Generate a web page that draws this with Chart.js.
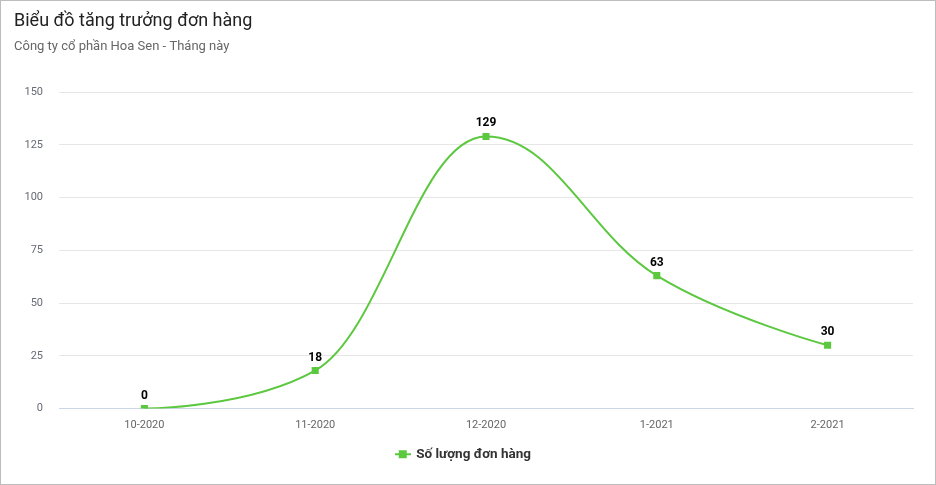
<!DOCTYPE html>
<html>
<head>
<meta charset="utf-8">
<script src="https://cdn.jsdelivr.net/npm/chart.js@4"></script>
<style>
  html, body { margin: 0; padding: 0; background: #fff; }
  #box { width: 934px; height: 483px; border: 1px solid #bdbdbd; border-right-width: 2px; box-sizing: content-box; }
  #box canvas { display: block; }
</style>
</head>
<body>
<div id="box"><canvas id="chart" width="933" height="483"></canvas></div>
<script>
const months = ['10-2020', '11-2020', '12-2020', '1-2021', '2-2021'];
const orders = [0, 18, 129, 63, 30];
const yTicks = [0, 25, 50, 75, 100, 125, 150];

const GREEN = '#5bc83f';
const FONT = "Roboto, 'Liberation Sans', sans-serif";

// Legend symbol: short line with a square on it, like the series itself.
function legendSymbol() {
  const c = document.createElement('canvas');
  c.width = 16; c.height = 10;
  const g = c.getContext('2d');
  g.strokeStyle = GREEN; g.lineWidth = 2;
  g.beginPath(); g.moveTo(0, 5); g.lineTo(16, 5); g.stroke();
  g.fillStyle = GREEN; g.fillRect(4, 1, 8, 8);
  return c;
}

// Spline control points in the style of the original (smoothing 1.5, ends
// without handles, no false extremes). Runs before the line is drawn and
// marks the points as updated so Chart.js keeps them.
const splineControls = {
  id: 'splineControls',
  beforeDatasetsDraw(chart) {
    const meta = chart.getDatasetMeta(0);
    const pts = meta.data;
    const sm = 1.5, den = 2.5;
    pts.forEach((p, i) => {
      const a = pts[i - 1], b = pts[i + 1];
      if (!a || !b) { p.cp1x = p.cp2x = p.x; p.cp1y = p.cp2y = p.y; return; }
      const lx = (sm * p.x + a.x) / den, rx = (sm * p.x + b.x) / den;
      let ly = (sm * p.y + a.y) / den, ry = (sm * p.y + b.y) / den;
      let corr = 0;
      if (rx !== lx) corr = (ry - ly) * (rx - p.x) / (rx - lx) + p.y - ry;
      ly += corr; ry += corr;
      if (ly > a.y && ly > p.y) { ly = Math.max(a.y, p.y); ry = 2 * p.y - ly; }
      else if (ly < a.y && ly < p.y) { ly = Math.min(a.y, p.y); ry = 2 * p.y - ly; }
      if (ry > b.y && ry > p.y) { ry = Math.max(b.y, p.y); ly = 2 * p.y - ry; }
      else if (ry < b.y && ry < p.y) { ry = Math.min(b.y, p.y); ly = 2 * p.y - ry; }
      p.cp1x = lx; p.cp1y = ly; p.cp2x = rx; p.cp2y = ry;
    });
    meta.dataset._pointsUpdated = true;
    meta.dataset._path = undefined;
  }
};

// Value labels above each point, black bold with a thin white outline.
const pointLabels = {
  id: 'pointLabels',
  afterDatasetsDraw(chart) {
    const ctx = chart.ctx;
    const meta = chart.getDatasetMeta(0);
    ctx.save();
    ctx.font = `bold 12px ${FONT}`;
    ctx.textAlign = 'center';
    ctx.textBaseline = 'bottom';
    ctx.lineJoin = 'round';
    meta.data.forEach((pt, i) => {
      const t = String(chart.data.datasets[0].data[i]);
      ctx.strokeStyle = '#fff'; ctx.lineWidth = 2;
      ctx.strokeText(t, pt.x, pt.y - 7);
      ctx.fillStyle = '#000';
      ctx.fillText(t, pt.x, pt.y - 7);
    });
    ctx.restore();
  }
};

new Chart(document.getElementById('chart'), {
  type: 'line',
  data: {
    labels: months,
    datasets: [{
      label: 'Số lượng đơn hàng',
      data: orders,
      borderColor: GREEN,
      backgroundColor: GREEN,
      borderWidth: 2,
      tension: 0.4,
      pointStyle: 'rect',
      pointRadius: 5,
      pointHoverRadius: 5,
      pointBorderWidth: 0,
    }]
  },
  options: {
    responsive: false,
    animation: false,
    layout: { padding: { left: 13, right: 21, top: 8, bottom: 13 } },
    plugins: {
      title: {
        display: true, align: 'start', text: 'Biểu đồ tăng trưởng đơn hàng',
        color: '#222', font: { family: FONT, size: 18, weight: 'normal' },
        padding: { top: 2, bottom: 6 }
      },
      subtitle: {
        display: true, align: 'start', text: 'Công ty cổ phần Hoa Sen - Tháng này',
        color: '#666', font: { family: FONT, size: 13 },
        padding: { top: 0, bottom: 38 }
      },
      legend: {
        position: 'bottom',
        labels: {
          usePointStyle: true,
          pointStyle: legendSymbol(),
          boxWidth: 16,
          color: '#333',
          font: { family: FONT, size: 13.5, weight: 'bold' },
          padding: 10
        }
      },
      tooltip: { enabled: false }
    },
    scales: {
      x: {
        offset: true,
        grid: { display: false, offset: true },
        border: { display: true, color: '#ccd6eb', width: 1 },
        ticks: { color: '#666', font: { family: FONT, size: 11 }, padding: 2 },
        afterFit: s => { s.height = 29; }
      },
      y: {
        min: 0, max: 150,
        afterBuildTicks: s => { s.ticks = yTicks.map(v => ({ value: v })); },
        grid: {
          color: c => c.tick && c.tick.value === 0 ? '#ccd6eb' : '#e6e6e6',
          drawTicks: false
        },
        border: { display: false },
        ticks: { color: '#666a73', font: { family: FONT, size: 11 }, padding: 16 },
        afterFit: s => { s.width = 45; }
      }
    }
  },
  plugins: [splineControls, pointLabels]
});
</script>
</body>
</html>
